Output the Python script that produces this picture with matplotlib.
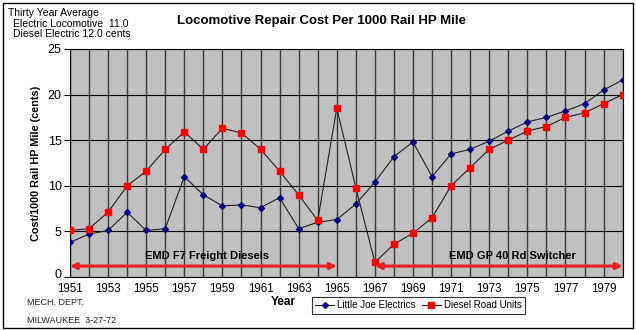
import matplotlib
matplotlib.use("Agg")
import matplotlib.pyplot as plt
import matplotlib.transforms as mtransforms
from matplotlib.patches import Rectangle

years = list(range(1951, 1981))
little_joe = [3.8, 4.7, 5.1, 7.1, 5.1, 5.3, 11.0, 9.0, 7.8, 7.9, 7.6, 8.7, 5.3, 6.0,
              6.3, 8.0, 10.4, 13.2, 14.8, 11.0, 13.5, 14.0, 14.9, 16.0, 17.0, 17.5,
              18.2, 19.0, 20.5, 21.6]
diesel = [5.1, 5.3, 7.1, 10.0, 11.6, 14.0, 15.9, 14.0, 16.3, 15.8, 14.0, 11.6, 9.0, 6.2,
          18.5, 9.8, 1.6, 3.6, 4.8, 6.5, 10.0, 12.0, 14.0, 15.0, 16.0, 16.5,
          17.5, 18.0, 19.0, 20.0]
year_ticks = list(range(1951, 1980, 2))
y_ticks = [0, 5, 10, 15, 20, 25]

# Service spans marked along the bottom of the plot
spans = [(1951, 1965, "EMD F7 Freight Diesels", 1958.2),
         (1967, 1980, "EMD GP 40 Rd Switcher", 1974.2)]
span_level = 1.2

plt.rcParams['font.family'] = ['Liberation Sans', 'DejaVu Sans']

fig = plt.figure(figsize=(6.36, 3.30), dpi=100)
fig.patches.append(Rectangle((0.005, 0.006), 0.99, 0.985, transform=fig.transFigure,
                             fill=False, edgecolor='black', linewidth=1.0))

ax = fig.add_axes([0.110, 0.1606, 0.869, 0.691])
ax.set_facecolor('#C0C0C0')
ax.set_xlim(1951, 1980)
ax.set_ylim(0, 25)

for yr in years:
    ax.axvline(yr, color='#3a3a3a', linewidth=1.0, zorder=1)
for yv in y_ticks:
    ax.axhline(yv, color='black', linewidth=0.8, zorder=1)

ax.plot(years, little_joe, color='#202020', linewidth=0.8, marker='D', markersize=3.0,
        markerfacecolor='#000080', markeredgecolor='#000080', label='Little Joe Electrics', zorder=3)
ax.plot(years, diesel, color='#202020', linewidth=0.8, marker='s', markersize=3.8,
        markerfacecolor='#FF0000', markeredgecolor='#FF0000', label='Diesel Road Units', zorder=3)

for x0, x1, label, xc in spans:
    ax.annotate('', xy=(x0, span_level), xytext=(x1, span_level),
                arrowprops=dict(arrowstyle='<|-|>', color='#E8211C', linewidth=2.2,
                                mutation_scale=9, shrinkA=0, shrinkB=0), zorder=4)
    ax.text(xc, 2.3, label, ha='center', va='center', fontsize=8, fontweight='bold', zorder=5)

ax.set_xticks(year_ticks)
ax.set_xticklabels([str(y) for y in year_ticks], fontsize=8.3)
ax.set_yticks(y_ticks)
ax.set_yticklabels([str(v) for v in y_ticks], fontsize=9)
ax.tick_params(axis='x', length=0, pad=4)
ax.tick_params(axis='y', length=4, direction='out', pad=2)
# lift the "0" label a little so it sits clear of the first year label
zero_label = ax.get_yticklabels()[0]
zero_label.set_transform(zero_label.get_transform() +
                         mtransforms.ScaledTranslation(0, 4 / 100, fig.dpi_scale_trans))
for s in ax.spines.values():
    s.set_color('black')
    s.set_linewidth(0.8)
ax.set_ylabel('Cost/1000 Rail HP Mile (cents)', fontsize=7.8, fontweight='bold', labelpad=5)

fig.text(0.505, 0.935, 'Locomotive Repair Cost Per 1000 Rail HP Mile', ha='center', va='center',
         fontsize=9.5, fontweight='bold')
fig.text(0.012, 0.962, 'Thirty Year Average', fontsize=7.5, va='center')
fig.text(0.021, 0.927, 'Electric Locomotive  11.0', fontsize=7.5, va='center')
fig.text(0.021, 0.896, 'Diesel Electric 12.0 cents', fontsize=7.5, va='center')

fig.text(0.445, 0.086, 'Year', ha='center', va='center', fontsize=8.5, fontweight='bold')
fig.text(0.042, 0.082, 'MECH. DEPT.', fontsize=6.5, va='center', color='#222222')
fig.text(0.042, 0.030, 'MILWAUKEE  3-27-72', fontsize=6.5, va='center', color='#222222')

leg = ax.legend(loc='upper left', bbox_to_anchor=(0.490, 0.1005), bbox_transform=fig.transFigure,
                ncol=2, fontsize=7, frameon=True, fancybox=False, edgecolor='black',
                handlelength=2.0, handletextpad=0.3, columnspacing=0.6, borderpad=0.35,
                borderaxespad=0)
leg.get_frame().set_linewidth(0.8)

fig.savefig('out.png', dpi=100)
